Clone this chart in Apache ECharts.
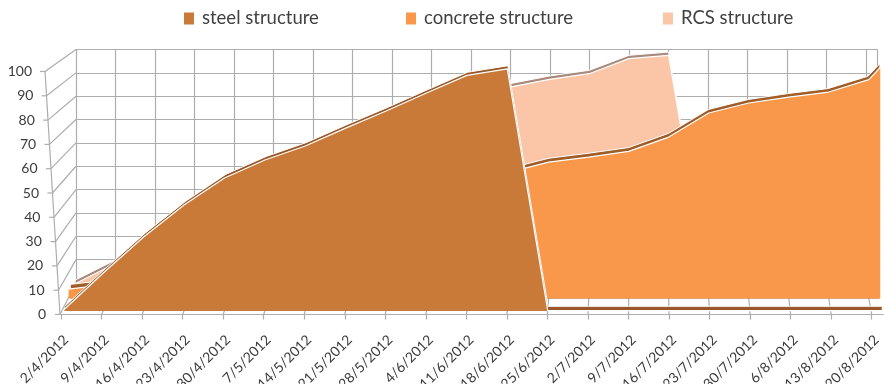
<!DOCTYPE html>
<html>
<head>
<meta charset="utf-8">
<script src="https://cdn.jsdelivr.net/npm/echarts@6/dist/echarts.min.js"></script>
<style>
  html, body { margin: 0; padding: 0; background: #ffffff; }
  #chart { width: 884px; height: 384px; }
</style>
</head>
<body>
<div id="chart"></div>
<script>
// Weekly progress readings (the last reading is taken on 22/8)
const dates = ['2/4/2012', '9/4/2012', '16/4/2012', '23/4/2012', '30/4/2012', '7/5/2012',
  '14/5/2012', '21/5/2012', '28/5/2012', '4/6/2012', '11/6/2012', '18/6/2012', '25/6/2012',
  '2/7/2012', '9/7/2012', '16/7/2012', '23/7/2012', '30/7/2012', '6/8/2012', '13/8/2012',
  '20/8/2012', '22/8/2012'];
const steel = [0, 15.6, 30.5, 43.7, 54.9, 62.3, 68.1, 75.5, 82.6, 90, 97.3, 100,
  0, 0, 0, 0, 0, 0, 0, 0, 0, 0];
const concrete = [4, 6, 9, 13, 17, 21, 26, 31, 36, 41, 47, 53,
  57.3, 59.4, 61.8, 67.8, 77.9, 82.1, 84.6, 86.7, 91.9, 97];
const rcs = [1.5, 10, 16, 22, 28, 35, 42, 50, 58, 66, 76, 85.5,
  88.8, 91.2, 97.6, 99, 0, 0, 0, 0, 0, 0];
const tickLabels = dates.slice(0, 21);
const yTicks = [0, 10, 20, 30, 40, 50, 60, 70, 80, 90, 100];

const FONT = 'Lato';
const GRID_GREY = '#adadad';
const TEXT = '#3c3c3c';

// days since the first reading
function dayOf(s) {
  const [d, m, y] = s.split('/').map(Number);
  const [d0, m0, y0] = dates[0].split('/').map(Number);
  return Math.round((Date.UTC(y, m - 1, d) - Date.UTC(y0, m0 - 1, d0)) / 86400000);
}
const days = dates.map(dayOf);
const DAY_MAX = days[days.length - 1];

// Oblique 3D box: front plane (depth 0) and back wall (depth 1)
const FRONT = { left: 61, right: 883.3, base: 314.5, top: 71.5 };
const BACK = { left: 76, right: 877.3, base: 283, top: 49.5 };
function plane(d) {
  const k = (a, b) => a + (b - a) * d;
  return {
    left: k(FRONT.left, BACK.left), right: k(FRONT.right, BACK.right),
    base: k(FRONT.base, BACK.base), top: k(FRONT.top, BACK.top)
  };
}
function px(p, day, v) {
  return [p.left + (p.right - p.left) * day / DAY_MAX, p.base - (p.base - p.top) * v / 100];
}
// the front value axis leans slightly outward towards the top
const frontAxisX = v => FRONT.left - 1 - 15 * v / 100;

const grids = [], xAxes = [], yAxes = [], series = [];
function addGrid(p, yMin, bottomY) {
  grids.push({ left: p.left, top: p.top, width: p.right - p.left, height: bottomY - p.top,
    outerBoundsMode: 'none', containLabel: false });
  const i = grids.length - 1;
  xAxes.push({ type: 'value', gridIndex: i, min: 0, max: DAY_MAX, interval: 7, show: false });
  yAxes.push({ type: 'value', gridIndex: i, min: yMin, max: 100, show: false });
  return i;
}

// grid 0: front plane with the visible axes
grids.push({ left: FRONT.left, top: FRONT.top, width: FRONT.right - FRONT.left,
  height: FRONT.base - FRONT.top, outerBoundsMode: 'none', containLabel: false });
xAxes.push({
  type: 'value', gridIndex: 0, min: 0, max: DAY_MAX, interval: 7,
  axisLine: { show: true, lineStyle: { color: GRID_GREY, width: 1.2 } },
  axisTick: { show: true, length: 5, lineStyle: { color: GRID_GREY, width: 1.2 } },
  splitLine: { show: false },
  axisLabel: {
    rotate: 45, margin: 18, align: 'right', verticalAlign: 'top', showMaxLabel: false,
    fontFamily: FONT, fontSize: 14, color: TEXT,
    formatter: v => tickLabels[Math.round(v / 7)] || ''
  }
});
const rich = {};
yTicks.forEach(v => { rich['r' + v] = { padding: [0, 14 * v / 100, 0, 0], fontFamily: FONT, fontSize: 14, color: TEXT }; });
yAxes.push({
  type: 'value', gridIndex: 0, min: 0, max: 100, interval: 10,
  axisLine: { show: false }, axisTick: { show: false }, splitLine: { show: false },
  axisLabel: { margin: 15, formatter: v => '{r' + v + '|' + v + '}', rich }
});

// grid 1: back wall with its gridlines
grids.push({ left: BACK.left, top: BACK.top, width: BACK.right - BACK.left,
  height: BACK.base - BACK.top, outerBoundsMode: 'none', containLabel: false });
xAxes.push({ type: 'value', gridIndex: 1, min: 0, max: DAY_MAX, interval: 7,
  axisLine: { show: false }, axisTick: { show: false }, axisLabel: { show: false },
  splitLine: { show: true, lineStyle: { color: GRID_GREY, width: 1.2 } } });
yAxes.push({ type: 'value', gridIndex: 1, min: 0, max: 100, interval: 10,
  axisLine: { show: false }, axisTick: { show: false }, axisLabel: { show: false },
  splitLine: { show: true, lineStyle: { color: GRID_GREY, width: 1.2 } } });

// each structure is a slab: a front face and, behind it, its top face
// (listed back to front so nearer slabs cover farther ones)
const slabs = [
  { name: 'RCS structure', values: rcs, depth: [0.84, 0.99], fill: '#fbc5a7', top: '#a98b7e' },
  { name: 'concrete structure', values: concrete, depth: [0.506, 0.656], fill: '#f9984a', top: '#9f5d2a' },
  { name: 'steel structure', values: steel, depth: [0.12, 0.26], fill: '#c97a39', top: '#9a5828' }
];
let layerZ = 2;
slabs.forEach(s => {
  const pf = plane(s.depth[0]);
  const pb = plane(s.depth[1]);
  const pts = days.map((d, i) => [d, s.values[i]]);
  // top face: back edge filled down to the front baseline
  const scaleB = (pb.base - pb.top) / 100;
  const gb = addGrid(pb, -(pf.base - pb.base) / scaleB, pf.base);
  series.push({
    name: s.name + ' top', type: 'line', xAxisIndex: gb, yAxisIndex: gb, data: pts,
    symbol: 'none', silent: true, clip: false, z: layerZ++,
    lineStyle: { color: '#ffffff', width: 1 },
    areaStyle: { color: s.top, opacity: 1, origin: 'start' }
  });
  const gf = addGrid(pf, 0, pf.base);
  series.push({
    name: s.name, type: 'line', xAxisIndex: gf, yAxisIndex: gf, data: pts,
    symbol: 'none', silent: true, clip: false, z: layerZ++,
    itemStyle: { color: s.fill },
    lineStyle: { color: '#ffffff', width: 1.2 },
    areaStyle: { color: s.fill, opacity: 1 }
  });
});

// side wall, front value axis and floor lines
const graphics = [];
const line = (a, b) => graphics.push({ type: 'line', silent: true, z: 0,
  shape: { x1: a[0], y1: a[1], x2: b[0], y2: b[1] },
  style: { stroke: GRID_GREY, lineWidth: 1.2 } });
const fy = v => px(FRONT, 0, v)[1];
const by = v => px(BACK, 0, v)[1];
yTicks.forEach(v => {
  line([frontAxisX(v) - 5, fy(v)], [frontAxisX(v), fy(v)]);
  line([frontAxisX(v), fy(v)], [BACK.left, by(v)]);
});
line([frontAxisX(0), fy(0)], [frontAxisX(100), fy(100)]);
for (let d = 7; d <= 140; d += 7) {
  line(px(FRONT, d, 0), px(BACK, d, 0));
}

const legendBase = {
  icon: 'rect', itemWidth: 10, itemHeight: 12, top: 9, padding: 0, selectedMode: false,
  textStyle: { fontFamily: FONT, fontSize: 18.5, color: '#404040', padding: [0, 0, 0, 3] }
};
const chart = echarts.init(document.getElementById('chart'), null, { renderer: 'canvas' });
chart.setOption({
  animation: false,
  backgroundColor: '#ffffff',
  legend: [
    Object.assign({ data: ['steel structure'], left: 184 }, legendBase),
    Object.assign({ data: ['concrete structure'], left: 406 }, legendBase),
    Object.assign({ data: ['RCS structure'], left: 663 }, legendBase)
  ],
  grid: grids,
  xAxis: xAxes,
  yAxis: yAxes,
  series: series,
  graphic: { elements: graphics }
});
</script>
</body>
</html>
